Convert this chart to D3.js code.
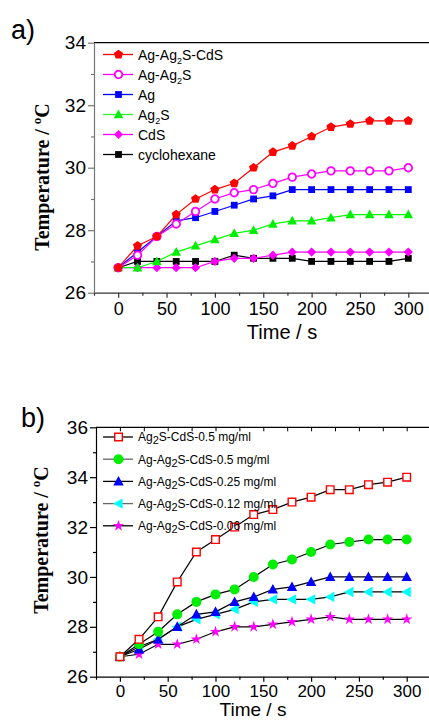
<!DOCTYPE html>
<html lang="en">
<head>
<meta charset="utf-8">
<script src="https://d3js.org/d3.v7.min.js"></script>
<style>
  body { margin: 0; background: #fff; }
  text { font-family: "Liberation Sans", Arial, sans-serif; }
</style>
</head>
<body>
<svg id="chart" width="429" height="720"></svg>
<script>
// time points (s)
var time = [0, 20, 40, 60, 80, 100, 120, 140, 160, 180, 200, 220, 240, 260, 280, 300];

// panel a
var namesA = ["Ag-Ag2S-CdS", "Ag-Ag2S", "Ag", "Ag2S", "CdS", "cyclohexane"];
var agAg2sCds = [26.8, 27.5, 27.8, 28.5, 29.0, 29.3, 29.5, 30.0, 30.5, 30.7, 31.0, 31.3, 31.4, 31.5, 31.5, 31.5];
var agAg2s    = [26.8, 27.2, 27.8, 28.2, 28.6, 29.0, 29.2, 29.3, 29.5, 29.7, 29.8, 29.9, 29.9, 29.9, 29.9, 30.0];
var ag        = [26.8, 27.3, 27.8, 28.3, 28.4, 28.6, 28.8, 29.0, 29.1, 29.3, 29.3, 29.3, 29.3, 29.3, 29.3, 29.3];
var ag2s      = [26.8, 26.8, 27.0, 27.3, 27.5, 27.7, 27.9, 28.0, 28.2, 28.3, 28.3, 28.4, 28.5, 28.5, 28.5, 28.5];
var cds       = [26.8, 26.8, 26.8, 26.8, 26.8, 27.0, 27.1, 27.1, 27.2, 27.3, 27.3, 27.3, 27.3, 27.3, 27.3, 27.3];
var cyclohex  = [26.8, 27.0, 27.0, 27.0, 27.0, 27.0, 27.2, 27.1, 27.1, 27.1, 27.0, 27.0, 27.0, 27.0, 27.0, 27.1];

// panel b
var namesB = ["Ag2S-CdS-0.5 mg/ml", "Ag-Ag2S-CdS-0.5 mg/ml", "Ag-Ag2S-CdS-0.25 mg/ml", "Ag-Ag2S-CdS-0.12 mg/ml", "Ag-Ag2S-CdS-0.06 mg/ml"];
var b050 = [26.8, 27.5, 28.4, 29.8, 31.0, 31.5, 32.0, 32.5, 32.7, 33.0, 33.2, 33.5, 33.5, 33.7, 33.8, 34.0];
var g050 = [26.8, 27.3, 27.8, 28.5, 29.0, 29.3, 29.5, 30.0, 30.5, 30.7, 31.0, 31.3, 31.4, 31.5, 31.5, 31.5];
var g025 = [26.8, 27.1, 27.5, 28.0, 28.5, 28.6, 29.0, 29.2, 29.5, 29.6, 29.8, 30.0, 30.0, 30.0, 30.0, 30.0];
var g012 = [26.8, 27.2, 27.5, 28.0, 28.3, 28.5, 28.7, 29.0, 29.1, 29.1, 29.1, 29.2, 29.4, 29.4, 29.4, 29.4];
var g006 = [26.8, 26.9, 27.3, 27.3, 27.5, 27.8, 28.0, 28.0, 28.1, 28.2, 28.3, 28.4, 28.3, 28.3, 28.3, 28.3];

var xTicks = [0, 50, 100, 150, 200, 250, 300];
var xMinor = [-25, 25, 75, 125, 175, 225, 275, 325];
var yTicksA = [26, 28, 30, 32, 34];
var yTicksB = [26, 28, 30, 32, 34, 36];

var svg = d3.select("#chart");

// marker shapes, centered at 0,0
function shape(type, r) {
  if (type == "square") return "M" + (-r) + "," + (-r) + "h" + 2 * r + "v" + 2 * r + "h" + (-2 * r) + "Z";
  if (type == "circle") return d3.symbol(d3.symbolCircle, Math.PI * r * r)();
  if (type == "tri") return "M0," + (-r) + "L" + r * 0.95 + "," + r * 0.75 + "L" + (-r * 0.95) + "," + r * 0.75 + "Z";
  if (type == "triLeft") return "M" + (-r) + ",0L" + r * 0.75 + "," + (-r * 0.95) + "L" + r * 0.75 + "," + r * 0.95 + "Z";
  if (type == "diamond") return "M0," + (-r) + "L" + r + ",0L0," + r + "L" + (-r) + ",0Z";
  if (type == "star") return d3.symbol(d3.symbolStar, r * r * 1.6)();
  if (type == "pentagon") {
    var p = [];
    for (var k = 0; k < 5; k++) {
      var a = -Math.PI / 2 + k * 2 * Math.PI / 5;
      p.push([r * Math.cos(a), r * Math.sin(a)]);
    }
    return "M" + p.join("L") + "Z";
  }
}

// text with subscripted "2" after "Ag"
function subText(sel, label, subSize, dy) {
  var parts = label.split("Ag2");
  parts.forEach(function (part, i) {
    if (i > 0) {
      sel.append("tspan").text("Ag");
      sel.append("tspan").attr("font-size", subSize).attr("dy", dy).text("2");
      sel.append("tspan").attr("dy", -dy).text(part);
    } else if (part.length) {
      sel.append("tspan").text(part);
    }
  });
}

function drawPanel(cfg) {
  var x = d3.scaleLinear().domain([-25, 325]).range(cfg.xr);
  var y = d3.scaleLinear().domain(cfg.yd).range(cfg.yr);
  var g = svg.append("g");

  // top frame
  g.append("line").attr("x1", cfg.xr[0]).attr("x2", 429).attr("y1", cfg.yr[1]).attr("y2", cfg.yr[1])
    .attr("stroke", "#000").attr("stroke-width", 1.2);
  if (cfg.topTicks) {
    g.append("g").attr("transform", "translate(0," + cfg.yr[1] + ")")
      .call(d3.axisTop(x).tickValues(xTicks.concat(xMinor)).tickSize(-4).tickFormat(""))
      .call(s => s.select(".domain").remove())
      .selectAll("line").attr("stroke", "#000");
  }

  // x axis
  var xa = g.append("g").attr("transform", "translate(0," + cfg.yr[0] + ")");
  xa.call(d3.axisBottom(x).tickValues(xTicks).tickSize(5).tickPadding(cfg.xPad).tickSizeOuter(0));
  xa.append("g").call(d3.axisBottom(x).tickValues(xMinor).tickSize(3).tickFormat(""))
    .call(s => s.select(".domain").remove());
  xa.selectAll("text").attr("font-size", cfg.xFont).attr("fill", "#000").attr("font-family", "Liberation Sans, Arial, sans-serif");
  xa.selectAll("path,line").attr("stroke", cfg.xAxisColor).attr("stroke-width", 1.2);

  // y axis
  var ya = g.append("g").attr("transform", "translate(" + cfg.xr[0] + ",0)");
  ya.call(d3.axisLeft(y).tickValues(cfg.yTicks).tickSize(6).tickPadding(2).tickSizeOuter(0));
  ya.append("g").call(d3.axisLeft(y).tickValues(d3.range(cfg.yd[0] + 1, cfg.yd[1], 2)).tickSize(3).tickFormat(""))
    .call(s => s.select(".domain").remove());
  ya.selectAll("text").attr("font-size", 19).attr("fill", "#000").attr("font-family", "Liberation Sans, Arial, sans-serif");
  ya.selectAll("path,line").attr("stroke", cfg.yAxisColor).attr("stroke-width", 1.2);

  // axis titles
  g.append("text").attr("x", cfg.xTitle[0]).attr("y", cfg.xTitle[1]).attr("text-anchor", "middle")
    .attr("font-size", cfg.xTitleFont).text("Time / s");
  var yt = g.append("text").attr("transform", "translate(" + cfg.yTitle[0] + "," + cfg.yTitle[1] + ") rotate(-90)")
    .attr("text-anchor", "middle").attr("font-size", 20).attr("font-weight", "bold")
    .style("font-family", "Liberation Serif, Times New Roman, serif");
  yt.append("tspan").text("Temperature / ");
  yt.append("tspan").attr("font-size", 13).attr("dy", -8).text("o");
  yt.append("tspan").attr("dy", 8).text("C");

  // panel label
  g.append("text").attr("x", cfg.label[0]).attr("y", cfg.label[1]).attr("font-size", 27).text(cfg.labelText);

  var line = d3.line().x((d, i) => x(time[i])).y(d => y(d));

  // series, drawn bottom to top
  cfg.series.slice().reverse().forEach(function (s) {
    g.append("path").datum(s.values).attr("d", line).attr("fill", "none")
      .attr("stroke", s.line).attr("stroke-width", 1.2);
    g.selectAll(null).data(s.values).enter().append("path")
      .attr("transform", (d, i) => "translate(" + x(time[i]) + "," + y(d) + ")")
      .attr("d", shape(s.shape, s.r))
      .attr("fill", s.fill).attr("stroke", s.stroke).attr("stroke-width", s.sw || 0);
  });

  // legend
  cfg.series.forEach(function (s, i) {
    var ly = cfg.legY + i * cfg.legStep;
    g.append("line").attr("x1", 103).attr("x2", 133).attr("y1", ly).attr("y2", ly)
      .attr("stroke", s.legLine || s.line).attr("stroke-width", 1.3);
    g.append("path").attr("transform", "translate(118.5," + ly + ")").attr("d", shape(s.shape, s.r))
      .attr("fill", s.fill).attr("stroke", s.stroke).attr("stroke-width", s.sw || 0);
    var t = g.append("text").attr("x", 138).attr("y", ly).attr("dy", "0.36em").attr("font-size", cfg.legFont);
    subText(t, s.name, cfg.subSize, cfg.subDy);
  });
}

drawPanel({
  xr: [94, 432.5], yd: [26, 34], yr: [292.7, 42.7], yTicks: yTicksA,
  xAxisColor: "#333", yAxisColor: "#777", topTicks: false, xFont: 18, xPad: 5, xTitleFont: 20,
  xTitle: [282, 339], yTitle: [49, 177], label: [11, 39], labelText: "a)",
  legY: 54.5, legStep: 20, legFont: 14, subSize: 9, subDy: 4,
  series: [
    { name: namesA[0], values: agAg2sCds, line: "#ff0000", shape: "pentagon", r: 4.8, fill: "#ff0000", stroke: "#ff0000" },
    { name: namesA[1], values: agAg2s, line: "#ff00ff", shape: "circle", r: 3.8, fill: "#fff", stroke: "#ff00ff", sw: 1.8 },
    { name: namesA[2], values: ag, line: "#0000ff", shape: "square", r: 3.4, fill: "#0000ff", stroke: "#0000ff" },
    { name: namesA[3], values: ag2s, line: "#00ff00", legLine: "#33ee33", shape: "tri", r: 5, fill: "#00ee00", stroke: "#00ee00" },
    { name: namesA[4], values: cds, line: "#ff00ff", shape: "diamond", r: 4.6, fill: "#ff00ff", stroke: "#ff00ff" },
    { name: namesA[5], values: cyclohex, line: "#000", shape: "square", r: 3.4, fill: "#000", stroke: "#000" }
  ]
});

drawPanel({
  xr: [96, 430.6], yd: [26, 36], yr: [676.7, 427.3], yTicks: yTicksB,
  xAxisColor: "#000", yAxisColor: "#000", topTicks: true, xFont: 17, xPad: 3, xTitleFont: 19,
  xTitle: [253, 716], yTitle: [48, 540], label: [21, 427], labelText: "b)",
  legY: 437, legStep: 22.2, legFont: 12, subSize: 11, subDy: 3,
  series: [
    { name: namesB[0], values: b050, line: "#000", shape: "square", r: 3.8, fill: "#fff", stroke: "#ff0000", sw: 1.4 },
    { name: namesB[1], values: g050, line: "#000", legLine: "#666", shape: "circle", r: 5, fill: "#00ee00", stroke: "#00ee00" },
    { name: namesB[2], values: g025, line: "#000", shape: "tri", r: 5.5, fill: "#0000ff", stroke: "#0000ff" },
    { name: namesB[3], values: g012, line: "#000", legLine: "#666", shape: "triLeft", r: 5.5, fill: "#00ffff", stroke: "#00ffff" },
    { name: namesB[4], values: g006, line: "#000", shape: "star", r: 5, fill: "#ff00ff", stroke: "#ff00ff" }
  ]
});
</script>
</body>
</html>
